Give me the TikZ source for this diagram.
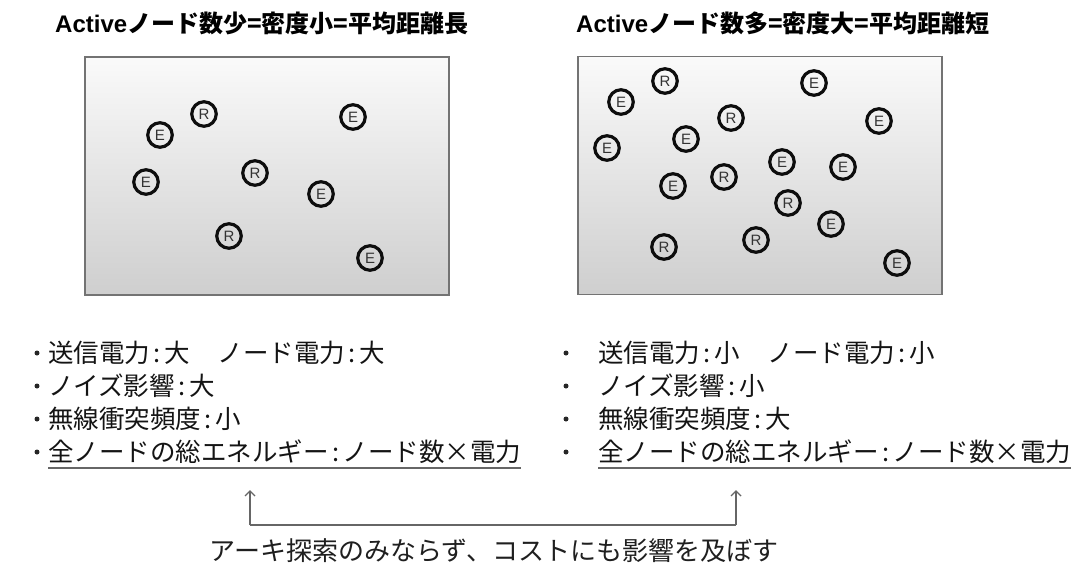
\documentclass[tikz,border=0pt]{standalone}
\usepackage{fontspec}
\setmainfont{Liberation Sans}
\newfontfamily\jp{Noto Sans CJK JP}
\newfontfamily\arl{Liberation Sans}
\usetikzlibrary{arrows.meta}
\newcommand{\cln}{\hspace{3.5pt}:\hspace{3.5pt}}
\begin{document}
\begin{tikzpicture}[x=1pt,y=-1pt,
  field/.style={draw=black!55, line width=1.5pt, top color=black!2, bottom color=black!19, minimum width=364pt, minimum height=238pt, inner sep=0pt},
  sensor/.style={circle, draw=black!95, line width=3.2pt, minimum size=24.5pt, inner sep=0pt, font=\arl\fontsize{15}{15}\selectfont, text=black!80},
  title/.style={anchor=base west, inner sep=0pt, font=\fontsize{24}{24}\selectfont\bfseries, text=black},
  item/.style={anchor=base west, inner sep=0pt, font=\jp\fontsize{25.5}{25.5}\selectfont, text=black!92},
  dot/.style={circle, fill=black!85, minimum size=5pt, inner sep=0pt},
  note/.style={anchor=base, inner sep=0pt, font=\jp\fontsize{26}{26}\selectfont, text=black!88},
  uline/.style={draw=black!60, line width=1.6pt},
  link/.style={draw=black!60, line width=1.4pt},
  tip/.style={-{Straight Barb[length=5pt,width=10pt]}}
]
\useasboundingbox (0,0) rectangle (1080,566);
\fill[white] (0,0) rectangle (1080,566);

% titles
\node[title] (tL) at (55,32) {{\arl\bfseries Active}{\jp\bfseries ノード数少=密度小=平均距離長}};
\node[title] (tR) at (576,32) {{\arl\bfseries Active}{\jp\bfseries ノード数多=密度大=平均距離短}};

% fields
\node[field] (boxL) at (267,176) {};
\node[field] (boxR) at (760,175.5) {};

% left sensors
\node[sensor] (l1) at (204,114) {R};
\node[sensor] (l2) at (160,135) {E};
\node[sensor] (l3) at (353,117) {E};
\node[sensor] (l4) at (146,182) {E};
\node[sensor] (l5) at (255,173) {R};
\node[sensor] (l6) at (321,194) {E};
\node[sensor] (l7) at (229,236) {R};
\node[sensor] (l8) at (370,258) {E};

% right sensors
\node[sensor] (r1) at (665,81) {R};
\node[sensor] (r2) at (621,102) {E};
\node[sensor] (r3) at (814,83) {E};
\node[sensor] (r4) at (731,118) {R};
\node[sensor] (r5) at (879,121) {E};
\node[sensor] (r6) at (686,139) {E};
\node[sensor] (r7) at (607,148) {E};
\node[sensor] (r8) at (782,162) {E};
\node[sensor] (r9) at (843,167) {E};
\node[sensor] (r10) at (724,177) {R};
\node[sensor] (r11) at (673,186) {E};
\node[sensor] (r12) at (788,203) {R};
\node[sensor] (r13) at (831,224) {E};
\node[sensor] (r14) at (664,247) {R};
\node[sensor] (r15) at (756,240) {R};
\node[sensor] (r16) at (897,263) {E};

% left list
\node[dot] (bL1) at (37,353) {};
\node[dot] (bL2) at (37,386) {};
\node[dot] (bL3) at (37,419) {};
\node[dot] (bL4) at (37,452) {};
\node[item] (iL1) at (48,362) {送信電力\cln 大\hspace{28pt}ノード電力\cln 大};
\node[item] (iL2) at (48,395) {ノイズ影響\cln 大};
\node[item] (iL3) at (48,428) {無線衝突頻度\cln 小};
\node[item] (iL4) at (48,461) {全ノードの総エネルギー\cln ノード数×電力};
\draw[uline] ([yshift=-7pt]iL4.base west) -- ([yshift=-7pt]iL4.base east);

% right list
\node[dot] (bR1) at (566,353) {};
\node[dot] (bR2) at (566,386) {};
\node[dot] (bR3) at (566,419) {};
\node[dot] (bR4) at (566,452) {};
\node[item] (iR1) at (598,362) {送信電力\cln 小\hspace{28pt}ノード電力\cln 小};
\node[item] (iR2) at (598,395) {ノイズ影響\cln 小};
\node[item] (iR3) at (598,428) {無線衝突頻度\cln 大};
\node[item] (iR4) at (598,461) {全ノードの総エネルギー\cln ノード数×電力};
\draw[uline] ([yshift=-7pt]iR4.base west) -- ([yshift=-7pt]iR4.base east);

% bracket arrows
\coordinate (tipL) at (250,490);
\coordinate (cornL) at (250,525);
\coordinate (cornR) at (736,525);
\coordinate (tipR) at (736,490);
\draw[link,tip] (cornL) -- (tipL);
\draw[link,tip] (cornR) -- (tipR);
\draw[link] (cornL) -- (cornR);

\node[note] (cap) at (494,560) {アーキ探索のみならず、コストにも影響を及ぼす};
\end{tikzpicture}
\end{document}
